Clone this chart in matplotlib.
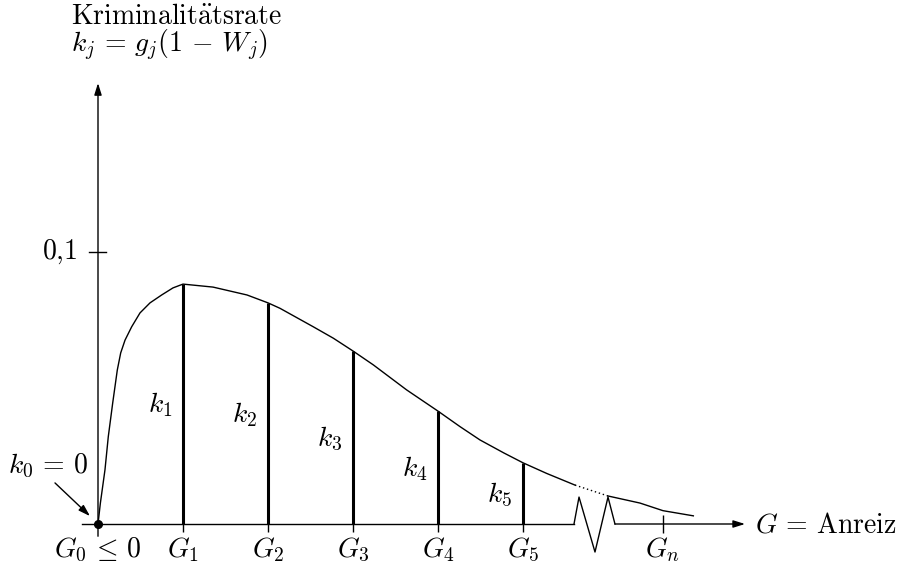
import matplotlib
matplotlib.use("Agg")
import matplotlib.pyplot as plt

plt.rcParams["mathtext.fontset"] = "cm"

# Kurve k(G) (G in Einheiten der Stützstellen G_j, k als Rate)
curve_g = [0.0, 0.028, 0.082, 0.121, 0.173, 0.227, 0.267, 0.318, 0.396, 0.494,
           0.612, 0.749, 0.882, 1.0, 1.353, 1.753, 2.0, 2.141, 2.533, 2.769,
           3.0, 3.239, 3.631, 4.0, 4.259, 4.494, 4.776, 5.0, 5.278, 5.612]
curve_k = [0.0, 0.0077, 0.0199, 0.0321, 0.0445, 0.0566, 0.0629, 0.0676, 0.0725,
           0.0776, 0.0813, 0.0842, 0.0868, 0.0882, 0.0871, 0.0842, 0.0813,
           0.0793, 0.0725, 0.0683, 0.0636, 0.0585, 0.0493, 0.0415, 0.0358,
           0.0309, 0.0261, 0.0225, 0.0186, 0.0143]
gap_g = [5.612, 6.0]
gap_k = [0.0143, 0.0103]
tail_g = [6.0, 6.376, 6.647, 7.004]
tail_k = [0.0103, 0.0077, 0.0049, 0.0030]

# Stützstellen G_1..G_5 und zugehörige Raten k_1..k_5
g_pos = [1, 2, 3, 4, 5]
k_val = [0.0882, 0.0813, 0.0636, 0.0415, 0.0225]
g_labels = [r"$G_1$", r"$G_2$", r"$G_3$", r"$G_4$", r"$G_5$"]
k_labels = [r"$k_1$", r"$k_2$", r"$k_3$", r"$k_4$", r"$k_5$"]
g_n = 6.647
y_tick = 0.1

# Bruchstelle der G-Achse
zig_g = [5.6, 5.659, 5.847, 6.0, 6.082]
zig_k = [0.0, 0.0099, -0.0103, 0.0099, 0.0]

fig = plt.figure(figsize=(9.03, 5.69), dpi=100)
ax = fig.add_axes([0, 0, 1, 1])
ax.set_xlim(-98 / 85, (903 - 98) / 85)
ax.set_ylim(-45 / 2720, 524 / 2720)
ax.axis("off")

fs = 20
arrow = dict(arrowstyle="-|>,head_length=0.7,head_width=0.22", lw=1.0,
             color="black", shrinkA=0, shrinkB=0)

# Achsen
ax.annotate("", xy=(0, 0.1621), xytext=(0, -0.0045), arrowprops=arrow)
ax.plot([-0.188, zig_g[0]], [0, 0], color="black", lw=1.0)
ax.plot(zig_g, zig_k, color="black", lw=1.0)
ax.annotate("", xy=(7.612, 0), xytext=(zig_g[-1], 0), arrowprops=arrow)

# Markierung 0,1
ax.plot([-0.1, 0.1], [y_tick, y_tick], color="black", lw=1.0)
ax.text(-0.247, y_tick, r"$0{,}1$", fontsize=fs, ha="right", va="center")

# Kurve
ax.plot(curve_g, curve_k, color="black", lw=1.0)
ax.plot(gap_g, gap_k, color="black", lw=1.0, linestyle=(0, (1, 2.0)))
ax.plot(tail_g, tail_k, color="black", lw=1.0)

# Säulen k_j und Teilstriche
ax.vlines(g_pos, 0, k_val, color="black", lw=2.2)
ax.vlines(g_pos, -0.003, 0, color="black", lw=1.0)
ax.vlines([g_n], -0.0033, 0.0033, color="black", lw=1.0)

for g, k, gl, kl in zip(g_pos, k_val, g_labels, k_labels):
    ax.text(g, -0.0121, gl, fontsize=fs, ha="center", va="baseline")
    ax.text(g - 0.27, k / 2 - 0.0032, kl, fontsize=fs, ha="center", va="baseline")

ax.text(0, -0.0121, r"$G_0 \,\leq\, 0$", fontsize=fs, ha="center", va="baseline")
ax.text(g_n, -0.0121, r"$G_n$", fontsize=fs, ha="center", va="baseline")
ax.text(7.73, -0.0033, r"$G \,=\, \mathrm{Anreiz}$", fontsize=fs, ha="left",
        va="baseline")

# Ursprung k_0 = 0
ax.plot([0], [0], "o", color="black", markersize=5.5)
ax.text(-1.059, 0.01875, r"$k_0 \,=\, 0$", fontsize=fs, ha="left", va="baseline")
ax.annotate("", xy=(-0.094, 0.0029), xytext=(-0.506, 0.0151), arrowprops=arrow)

# Beschriftung der Ordinate
ax.text(-0.318, 0.1838, r"$\mathrm{Kriminalit\ddot{a}tsrate}$", fontsize=fs,
        ha="left", va="baseline")
ax.text(-0.318, 0.1735, r"$k_j \,=\, g_j(1 \,-\, W_j)$", fontsize=fs, ha="left",
        va="baseline")

fig.savefig("out.png", dpi=100)
